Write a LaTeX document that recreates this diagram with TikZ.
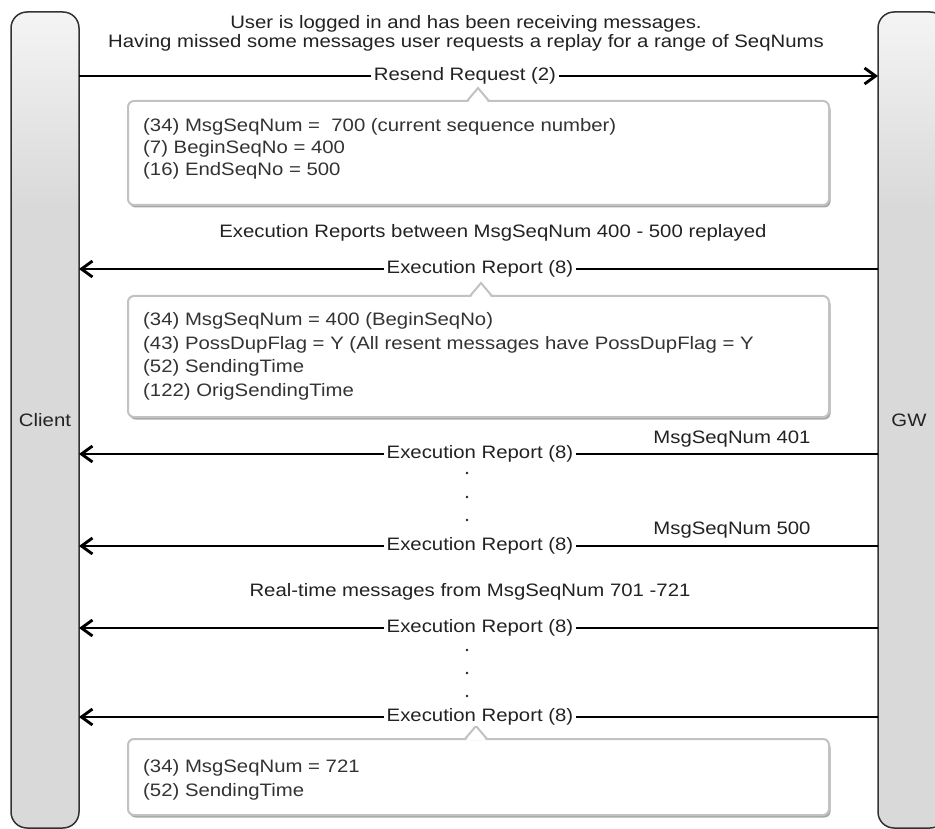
\documentclass[tikz,border=0pt]{standalone}
\usepackage{fontspec}
\setmainfont{Liberation Sans}[FakeStretch=1.13]
\usetikzlibrary{arrows.meta}
\definecolor{bardark}{HTML}{D9D9D9}
\definecolor{barlight}{HTML}{F4F4F4}
\definecolor{txt}{HTML}{222222}
\definecolor{boxline}{HTML}{C2C2C2}
\definecolor{shadowc}{HTML}{A8A8A8}
\pgfdeclareverticalshading{barshade}{100bp}{color(0bp)=(bardark); color(63bp)=(bardark); color(75bp)=(barlight); color(100bp)=(barlight)}
\newcommand{\callout}[5]{%
  % #1 x1, #2 y1, #3 x2, #4 y2, #5 notch x
  \fill[shadowc, rounded corners=6pt] (#1+1.5,#2+2.5) rectangle (#3+1.5,#4+2.5);
  \draw[boxln, fill=white, rounded corners=6pt] (#1,#2) rectangle (#3,#4);
  \fill[white] (#5-10,#2+1.2) -- (#5,#2-12) -- (#5+10,#2+1.2) -- cycle;
  \draw[boxln, line join=miter] (#5-11,#2) -- (#5,#2-13) -- (#5+11,#2);
}
\begin{document}
\begin{tikzpicture}[x=1pt,y=-1pt,
  every node/.style={text=txt, font=\fontsize{18}{21}\selectfont},
  bar/.style={draw=black!80, line width=1.5pt, rounded corners=16pt, shading=barshade,
              minimum width=68pt, minimum height=816pt, inner sep=0pt},
  msg/.style={draw=black, line width=2.9pt, -{Straight Barb[length=11pt,width=16pt]}},
  lab/.style={fill=white, inner xsep=3pt, inner ysep=1pt},
  plain/.style={inner sep=0pt},
  boxln/.style={draw=boxline, line width=2pt},
  btxt/.style={anchor=west, inner sep=0pt, text=black!80},
  dotc/.style={fill=txt}
]
\useasboundingbox (0,0) rectangle (935,829);
\fill[white] (0,0) rectangle (935,829);

% lifelines
\node[bar] (client) at (45,420) {Client};
\node[bar] (gw) at (912,420) {};
\node[plain] (gwlabel) at (909,420) {GW};

% header text
\node[plain] (t1) at (466,24) {User is logged in and has been receiving messages.};
\node[plain] (t2) at (466,43) {Having missed some messages user requests a replay for a range of SeqNums};

% connector endpoints
\coordinate (L1) at (79,76);  \coordinate (R1) at (878,76);
\coordinate (L2) at (79,269); \coordinate (R2) at (878,269);
\coordinate (L3) at (79,454); \coordinate (R3) at (878,454);
\coordinate (L4) at (79,546); \coordinate (R4) at (878,546);
\coordinate (L5) at (79,628); \coordinate (R5) at (878,628);
\coordinate (L6) at (79,717); \coordinate (R6) at (878,717);

% callout boxes
\callout{128}{101}{829}{205}{478}
\callout{128}{296}{829}{417}{481}
\callout{128}{739}{829}{815}{476}

% messages
\draw[msg] (L1) -- (R1);
\draw[msg] (R2) -- (L2);
\draw[msg] (R3) -- (L3);
\draw[msg] (R4) -- (L4);
\draw[msg] (R5) -- (L5);
\draw[msg] (R6) -- (L6);

\node[lab] (m1) at (465,76) {Resend Request (2)};
\node[lab] (m2) at (480,269) {Execution Report (8)};
\node[lab] (m3) at (480,454) {Execution Report (8)};
\node[lab] (m4) at (480,546) {Execution Report (8)};
\node[lab] (m5) at (480,628) {Execution Report (8)};
\node[lab] (m6) at (480,717) {Execution Report (8)};

% box texts
\node[btxt] (b1a) at (143,127) {(34) MsgSeqNum =\ \ 700 (current sequence number)};
\node[btxt] (b1b) at (143,149) {(7) BeginSeqNo = 400};
\node[btxt] (b1c) at (143,171) {(16) EndSeqNo = 500};

\node[btxt] (b2a) at (143,321) {(34) MsgSeqNum = 400 (BeginSeqNo)};
\node[btxt] (b2b) at (143,345) {(43) PossDupFlag = Y (All resent messages have PossDupFlag = Y};
\node[btxt] (b2c) at (143,368) {(52) SendingTime};
\node[btxt] (b2d) at (143,392) {(122) OrigSendingTime};

\node[btxt] (b3a) at (143,768) {(34) MsgSeqNum = 721};
\node[btxt] (b3b) at (143,792) {(52) SendingTime};

% section texts
\node[plain] (s1) at (493,233) {Execution Reports between MsgSeqNum 400 - 500 replayed};
\node[plain] (s2) at (732,439) {MsgSeqNum 401};
\node[plain] (s3) at (732,530) {MsgSeqNum 500};
\node[plain] (s4) at (470,592) {Real-time messages from MsgSeqNum 701 -721};

% ellipsis dots
\fill[dotc] (467,473) circle (1.3pt);
\fill[dotc] (467,497) circle (1.3pt);
\fill[dotc] (467,520) circle (1.3pt);
\fill[dotc] (467,650) circle (1.3pt);
\fill[dotc] (467,673) circle (1.3pt);
\fill[dotc] (467,696) circle (1.3pt);
\end{tikzpicture}
\end{document}
